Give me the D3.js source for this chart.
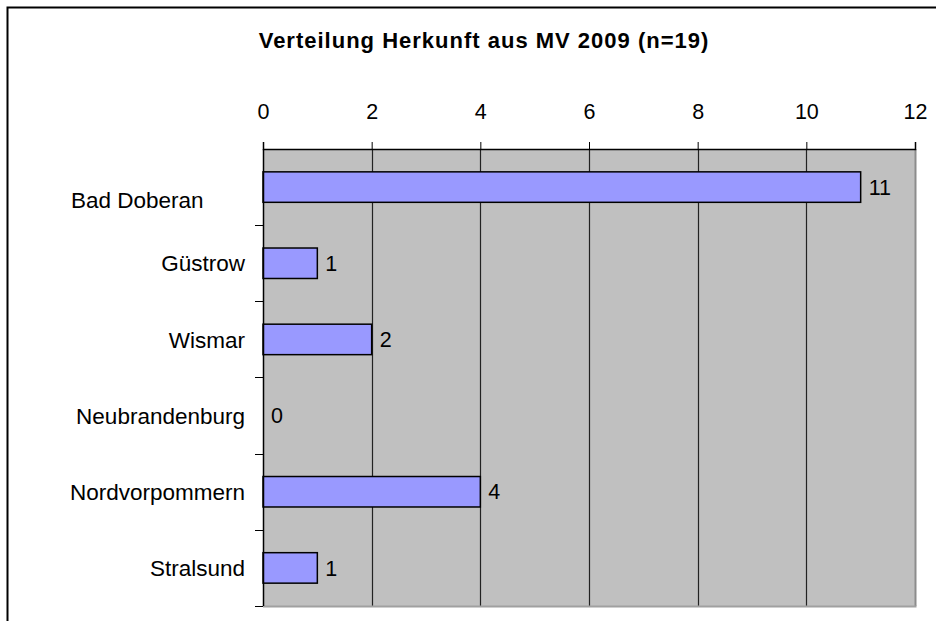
<!DOCTYPE html>
<html>
<head>
<meta charset="utf-8">
<script src="https://cdn.jsdelivr.net/npm/d3@7"></script>
<style>
  body { margin: 0; background: #fff; }
  svg { display: block; font-family: "Liberation Sans", Arial, sans-serif; }
</style>
</head>
<body>
<div id="chart"></div>
<script>
(function () {

  // Data
  const categories = ["Bad Doberan", "Güstrow", "Wismar", "Neubrandenburg", "Nordvorpommern", "Stralsund"]
  const values = [11, 1, 2, 0, 4, 1]
  const xTicks = [0, 2, 4, 6, 8, 10, 12]
  const title = "Verteilung Herkunft aus MV 2009 (n=19)"

  const W = 936, H = 621
  const margin = { top: 149, right: 21, bottom: 15, left: 263 }
  const width = W - margin.left - margin.right
  const height = H - margin.top - margin.bottom

  const root = d3.select("#chart").append("svg")
      .attr("width", W)
      .attr("height", H)

  // outer chart frame (only top and left edges fall inside the window)
  root.append("rect")
      .attr("x", 7.5).attr("y", 7.5)
      .attr("width", W + 20).attr("height", H + 20)
      .attr("fill", "#fff")
      .attr("stroke", "#000")
      .attr("stroke-width", 2)

  root.append("text")
      .attr("x", 484).attr("y", 48)
      .attr("text-anchor", "middle")
      .attr("font-size", 22)
      .attr("font-weight", "bold")
      .attr("letter-spacing", 1.0)
      .text(title)

  const svg = root.append("g")
      .attr("transform", "translate(" + margin.left + "," + margin.top + ")")

  const x = d3.scaleLinear().domain([0, 12]).range([0, width])
  const y = d3.scaleBand().domain(categories).range([0, height])
      .paddingInner(0.6).paddingOuter(0.3)

  // plot background
  svg.append("rect")
      .attr("width", width).attr("height", height)
      .attr("fill", "#c0c0c0")

  // grid lines
  svg.selectAll(".grid")
    .data(xTicks.slice(1, -1))
    .join("line")
      .attr("class", "grid")
      .attr("x1", d => Math.round(x(d)) + 0.5).attr("x2", d => Math.round(x(d)) + 0.5)
      .attr("y1", 0).attr("y2", height)
      .attr("stroke", "#222")
      .attr("stroke-width", 1.2)

  // right / bottom frame of plot area
  svg.append("line")
      .attr("x1", width + 0.5).attr("x2", width + 0.5)
      .attr("y1", 0).attr("y2", height)
      .attr("stroke", "#8c8c8c").attr("stroke-width", 2)
  svg.append("line")
      .attr("x1", 0).attr("x2", width + 1.5)
      .attr("y1", height + 0.5).attr("y2", height + 0.5)
      .attr("stroke", "#a0a0a0").attr("stroke-width", 2)

  // bars
  svg.selectAll(".bar")
    .data(values)
    .join("rect")
      .attr("class", "bar")
      .attr("x", x(0))
      .attr("y", (d, i) => y(categories[i]))
      .attr("width", d => x(d) - x(0))
      .attr("height", y.bandwidth())
      .attr("fill", "#9999ff")
      .attr("stroke", d => d > 0 ? "#000" : "none")
      .attr("stroke-width", 1.5)

  // value labels
  svg.selectAll(".val")
    .data(values)
    .join("text")
      .attr("class", "val")
      .attr("x", d => x(d) + 8)
      .attr("y", (d, i) => y(categories[i]) + y.bandwidth() / 2)
      .attr("dy", "0.36em")
      .attr("font-size", 21.5)
      .text(d => d)

  // top value axis
  const xAxis = svg.append("g")
      .call(d3.axisTop(x).tickValues(xTicks).tickSize(7).tickPadding(23))
  xAxis.select(".domain").attr("stroke", "#000").attr("stroke-width", 1.5)
  xAxis.selectAll(".tick line").attr("stroke", "#000")
  xAxis.selectAll(".tick text")
      .attr("font-family", null)
      .attr("font-size", 21.5)
      .attr("fill", "#000")

  // left category axis (ticks between categories)
  const step = y.step()
  const yStart = y(categories[0]) - y.paddingOuter() * step
  const bounds = d3.range(categories.length + 1).map(i => yStart + i * step)
  svg.append("line")
      .attr("x1", 0.5).attr("x2", 0.5)
      .attr("y1", 0).attr("y2", height)
      .attr("stroke", "#000").attr("stroke-width", 1.5)
  svg.selectAll(".ytick")
    .data(bounds.slice(1))
    .join("line")
      .attr("class", "ytick")
      .attr("x1", -8).attr("x2", 0)
      .attr("y1", d => Math.round(d) + 0.5).attr("y2", d => Math.round(d) + 0.5)
      .attr("stroke", "#000")

  svg.selectAll(".cat")
    .data(categories)
    .join("text")
      .attr("class", "cat")
      .attr("x", (d, i) => i === 0 ? -192 : -18)
      .attr("y", (d, i) => y(d) + y.bandwidth() / 2 + (i === 0 ? 13 : 0))
      .attr("dy", "0.36em")
      .attr("text-anchor", (d, i) => i === 0 ? "start" : "end")
      .attr("font-size", 22.5)
      .text(d => d)

})();
</script>
</body>
</html>
